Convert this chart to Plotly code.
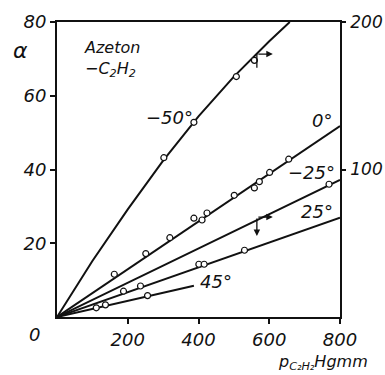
import plotly.graph_objects as go

# Solubility of acetylene in acetone: alpha vs partial pressure of C2H2 (mm Hg)
# Isotherms -50 and -25 are read on the right-hand scale (0-200), the rest on the left (0-80)

# fitted isotherms
x_m50 = [0, 100, 200, 300, 400, 500, 600, 658]
y_m50 = [0, 38, 73, 106, 136, 163, 187, 200]
x_m25 = [0, 800]
y_m25 = [0, 93]
x_0 = [0, 800]
y_0 = [0, 51.8]
x_25 = [0, 800]
y_25 = [0, 26.9]
x_45 = [0, 387]
y_45 = [0, 8.5]

# measured points
px_m50 = [302, 387, 507, 558]
py_m50 = [108, 132, 163, 174]
px_m25 = [769]
py_m25 = [90]
px_0 = [162, 251, 319, 387, 410, 424, 501, 558, 572, 601, 655]
py_0 = [11.6, 17.2, 21.5, 26.8, 26.3, 28.2, 33.0, 35.0, 36.7, 39.2, 42.8]
px_25 = [188, 236, 401, 416, 530]
py_25 = [7.0, 8.4, 14.3, 14.3, 18.1]
px_45 = [111, 137, 256]
py_45 = [2.5, 3.3, 5.8]

x_ticks = [200, 400, 600, 800]
y_ticks = [20, 40, 60, 80]
y2_ticks = [100, 200]

FONT = "DejaVu Sans"
ink = "#111111"

fig = go.Figure()

def curve(x, y, axis):
    fig.add_trace(go.Scatter(x=x, y=y, mode="lines", yaxis=axis,
                             line=dict(color=ink, width=2), hoverinfo="skip",
                             showlegend=False))

def points(x, y, axis):
    fig.add_trace(go.Scatter(x=x, y=y, mode="markers", yaxis=axis,
                             marker=dict(symbol="circle", size=6, color="white",
                                         line=dict(color=ink, width=1.2)),
                             showlegend=False))

curve(x_m50, y_m50, "y2")
curve(x_m25, y_m25, "y2")
curve(x_0, y_0, "y")
curve(x_25, y_25, "y")
curve(x_45, y_45, "y")
points(px_m50, py_m50, "y2")
points(px_m25, py_m25, "y2")
points(px_0, py_0, "y")
points(px_25, py_25, "y")
points(px_45, py_45, "y")

tickfont = dict(family=FONT, size=18, color=ink, style="italic")

fig.update_layout(
    width=385, height=375,
    margin=dict(l=57, r=45, t=22, b=58),
    paper_bgcolor="white", plot_bgcolor="white",
    showlegend=False,
    xaxis=dict(range=[0, 800], tickvals=x_ticks, ticks="outside", ticklen=5,
               tickwidth=1.5, tickcolor=ink, showline=True, linecolor=ink,
               linewidth=1.8, mirror=True, showgrid=False, zeroline=False,
               tickfont=tickfont, automargin=False, fixedrange=True),
    yaxis=dict(range=[0, 80], tickvals=y_ticks, ticks="outside", ticklen=5,
               tickwidth=1.5, tickcolor=ink, showline=True, linecolor=ink,
               linewidth=1.8, showgrid=False, zeroline=False,
               tickfont=tickfont, automargin=False, fixedrange=True),
    yaxis2=dict(range=[0, 200], tickvals=y2_ticks, ticks="outside", ticklen=4,
                tickwidth=1.5, tickcolor=ink, showline=True, linecolor=ink,
                linewidth=1.8, showgrid=False, zeroline=False, side="right",
                overlaying="y", tickfont=dict(family=FONT, size=17, color=ink,
                                              style="italic"),
                ticklabelstandoff=1, automargin=False, fixedrange=True),
)

def label(text, x, y, size=18, xanchor="center", xref="x", yref="y", align="center"):
    fig.add_annotation(text=text, x=x, y=y, xref=xref, yref=yref,
                       showarrow=False, xanchor=xanchor, yanchor="middle",
                       align=align,
                       font=dict(family=FONT, size=size, color=ink, style="italic"))

label("\u221250\u00b0", 318, 54.0)
label("0\u00b0", 749, 53.4)
label("\u221225\u00b0", 720, 39.3)
label("25\u00b0", 736, 28.5)
label("45\u00b0", 449, 9.5)
label("Azeton<br>\u2212C<sub>2</sub>H<sub>2</sub>", 71, 70.0, size=16,
      xanchor="left", align="left")

# axis captions and origin label
label("\u03b1", -0.13, 0.905, size=22, xref="paper", yref="paper")
label("0", -0.078, -0.06, size=18, xref="paper", yref="paper")
label("p<sub>C\u2082H\u2082</sub>Hgmm", 0.775, -0.155, size=16, xanchor="left",
      xref="paper", yref="paper")

# arrows marking the isotherms read on the right-hand scale
def arrow(x0, y0, x1, y1):
    fig.add_annotation(x=x1, y=y1, ax=x0, ay=y0, xref="x", yref="y",
                       axref="x", ayref="y", text="", showarrow=True,
                       arrowhead=2, arrowsize=1, arrowwidth=1.3, arrowcolor=ink)

arrow(565, 71.3, 610, 71.3)
fig.add_shape(type="line", x0=565, y0=71.3, x1=565, y1=67.6,
              line=dict(color=ink, width=1.3))
arrow(565, 27.1, 610, 27.1)
arrow(565, 27.1, 565, 22.0)

fig.write_html("out.html")
